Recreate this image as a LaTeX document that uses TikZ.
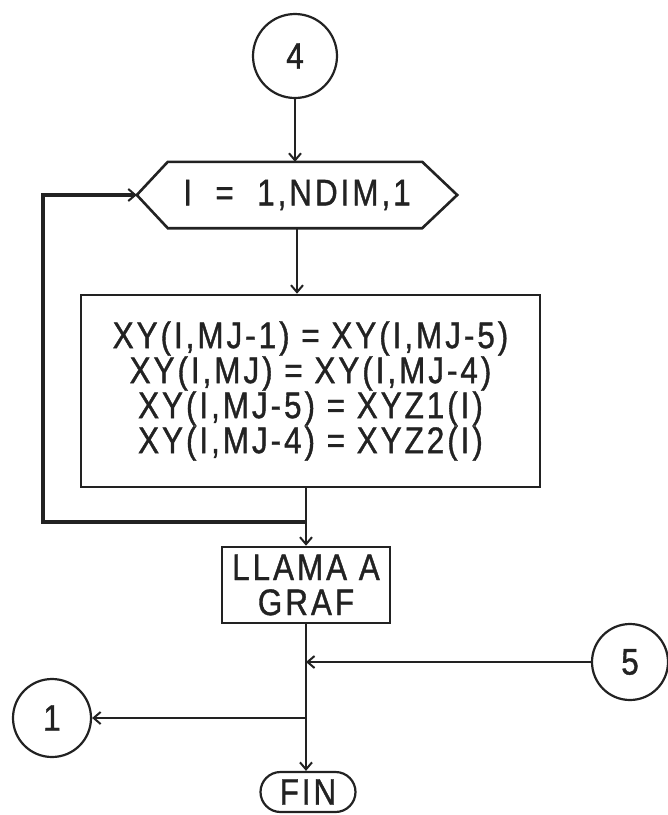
\documentclass[tikz,border=0pt]{standalone}
\usepackage{fontspec}
\newfontfamily\pf{Liberation Sans}[FakeStretch=0.85,LetterSpace=8,FakeBold=1]
\usetikzlibrary{arrows.meta}
\definecolor{ink}{HTML}{222222}
\begin{document}
\begin{tikzpicture}[x=1pt,y=-1pt,
  txt/.style={font=\pf\fontsize{37}{35}\selectfont, text=ink},
  conn/.style={txt, draw=ink, circle, line width=2.2pt, inner sep=0pt},
  proc/.style={txt, draw=ink, rectangle, line width=2.6pt, inner sep=0pt, align=center},
  flow/.style={draw=ink, line width=2.6pt},
  arr/.style={flow, -{Straight Barb[length=7pt,width=12pt,line width=2pt]}}
]
\fill[white] (0,0) rectangle (668,815);
\useasboundingbox (0,0) rectangle (668,815);

\node[conn, minimum size=84pt] (c4) at (295,56) {4};
\node[txt, minimum width=320pt, minimum height=66pt, inner sep=0pt] (hex) at (297,195) {I\ \ =\ \ 1,NDIM,1};
\draw[flow] (hex.west) -- ([xshift=31pt]hex.north west) -- ([xshift=-35pt]hex.north east)
  -- (hex.east) -- ([xshift=-35pt]hex.south east) -- ([xshift=31pt]hex.south west) -- cycle;
\node[proc, minimum width=459pt, minimum height=192pt] (calc) at (310.5,391)
  {XY(I,MJ-1) = XY(I,MJ-5)\\XY(I,MJ) = XY(I,MJ-4)\\XY(I,MJ-5) = XYZ1(I)\\XY(I,MJ-4) = XYZ2(I)};
\node[proc, minimum width=168pt, minimum height=76pt] (llama) at (306,585) {LLAMA A\\GRAF};
\node[conn, minimum size=76pt] (c5) at (630,662) {5};
\node[conn, minimum size=78pt] (c1) at (52,718) {1};
\node[txt, draw=ink, line width=2.2pt, rounded corners=20pt, minimum width=95pt, minimum height=40pt, inner sep=0pt] (fin) at (308,792) {FIN};

\coordinate (jl) at (306,522);
\coordinate (lb) at (43,522);
\coordinate (j5) at (306,662);
\coordinate (j1) at (306,718);

\draw[arr] (c4.south) -- (c4.south |- hex.north);
\draw[arr] (hex.south) -- (hex.south |- calc.north);
\draw[arr] (calc.south -| llama.north) -- (llama.north);
\draw[arr, line width=3.2pt] (jl) -- (lb) |- (hex.west);
\draw[arr] (llama.south) -- (llama.south |- fin.north);
\draw[arr] (c5.west) -- (j5);
\draw[arr] (j1) -- (c1.east);
\end{tikzpicture}
\end{document}
